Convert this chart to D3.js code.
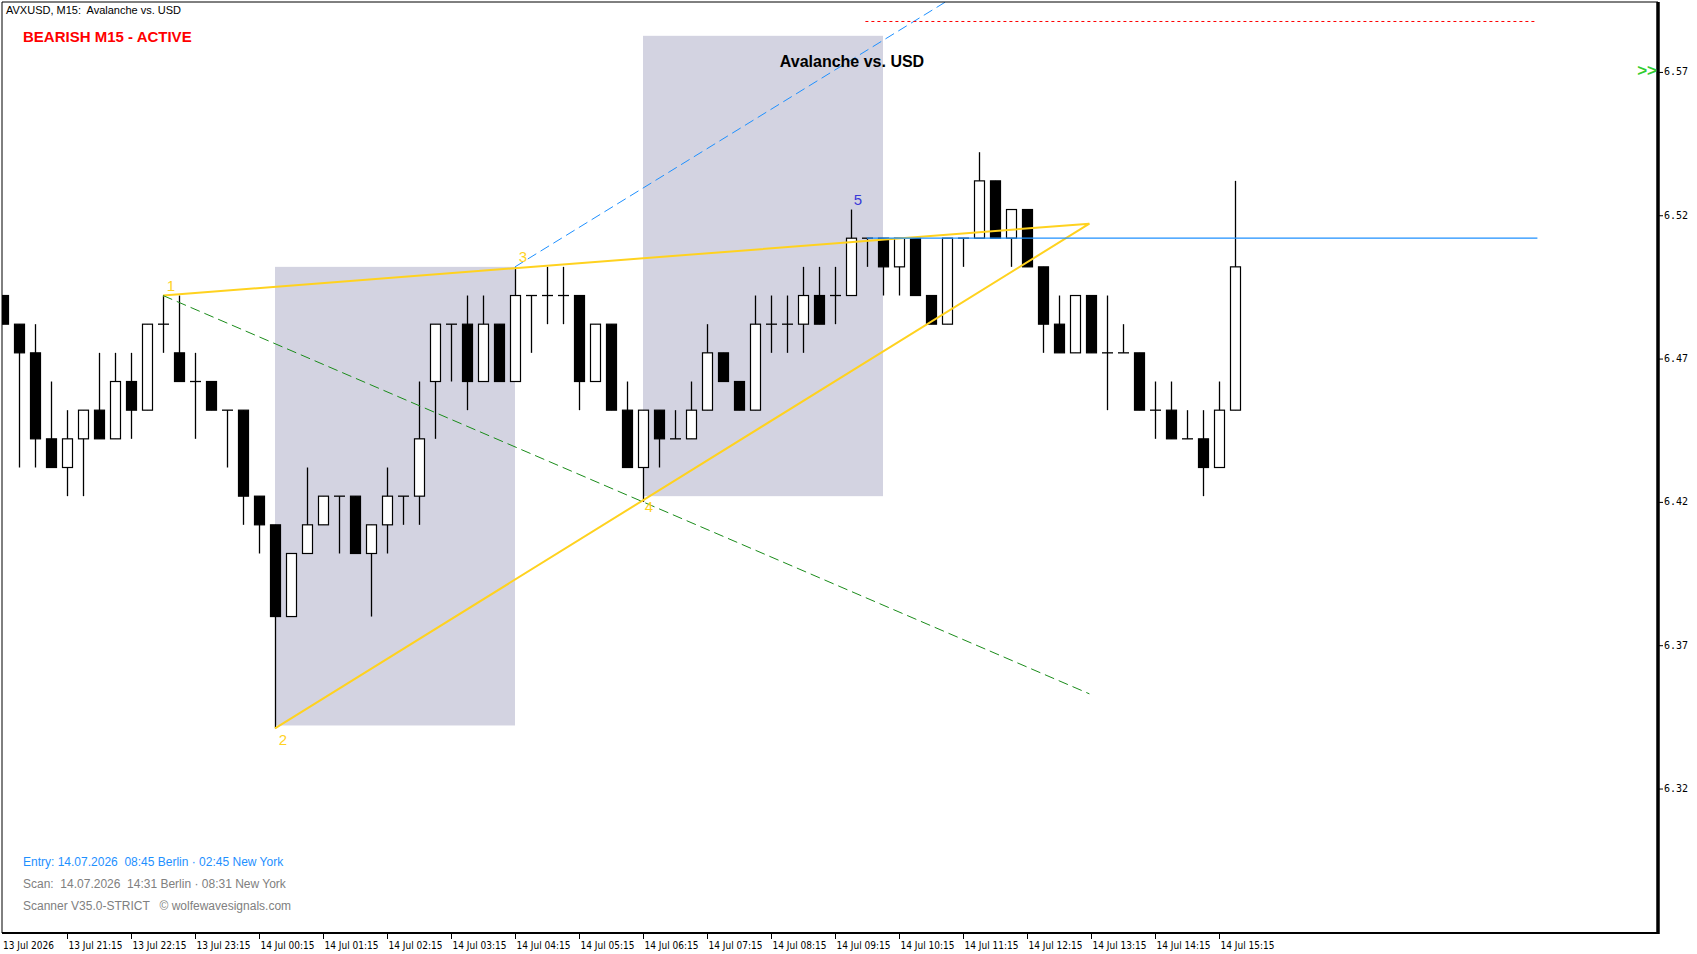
<!DOCTYPE html>
<html><head><meta charset="utf-8">
<script src="https://cdn.jsdelivr.net/npm/d3@7"></script>
<style>body{margin:0;background:#fff}svg{display:block}text{white-space:pre}</style>
</head><body>
<svg id="c" width="1697" height="954"></svg>
<script>
const opens  = [6.492,6.482,6.472,6.442,6.432,6.442,6.452,6.442,6.462,6.452,6.482,6.472,6.462,6.462,6.452,6.452,6.422,6.412,6.380,6.402,6.412,6.422,6.422,6.402,6.412,6.422,6.422,6.462,6.482,6.482,6.462,6.482,6.462,6.492,6.492,6.492,6.492,6.462,6.482,6.452,6.432,6.452,6.442,6.442,6.452,6.472,6.462,6.452,6.482,6.482,6.482,6.492,6.492,6.492,6.512,6.512,6.502,6.512,6.492,6.482,6.512,6.512,6.532,6.512,6.522,6.502,6.482,6.472,6.492,6.472,6.472,6.472,6.452,6.452,6.442,6.442,6.432,6.452];
const highs  = [6.492,6.482,6.482,6.462,6.452,6.452,6.472,6.472,6.472,6.482,6.492,6.492,6.472,6.462,6.452,6.452,6.422,6.412,6.402,6.432,6.422,6.422,6.422,6.412,6.432,6.422,6.462,6.482,6.482,6.492,6.492,6.482,6.502,6.492,6.502,6.502,6.492,6.482,6.482,6.462,6.452,6.452,6.452,6.462,6.482,6.472,6.462,6.492,6.492,6.492,6.502,6.502,6.502,6.522,6.512,6.512,6.512,6.512,6.492,6.512,6.512,6.542,6.532,6.522,6.522,6.502,6.492,6.492,6.492,6.492,6.482,6.472,6.462,6.462,6.452,6.452,6.462,6.532];
const lows   = [6.482,6.432,6.432,6.432,6.422,6.422,6.442,6.442,6.442,6.452,6.472,6.462,6.442,6.452,6.432,6.412,6.402,6.341,6.380,6.402,6.412,6.402,6.402,6.380,6.402,6.412,6.412,6.442,6.462,6.452,6.462,6.462,6.462,6.472,6.482,6.482,6.452,6.462,6.452,6.432,6.420,6.432,6.442,6.442,6.452,6.462,6.452,6.452,6.472,6.472,6.472,6.482,6.482,6.492,6.502,6.492,6.492,6.492,6.482,6.482,6.502,6.512,6.512,6.502,6.502,6.472,6.472,6.472,6.472,6.452,6.472,6.452,6.442,6.442,6.442,6.422,6.432,6.452];
const closes = [6.482,6.472,6.442,6.432,6.442,6.452,6.442,6.462,6.452,6.482,6.482,6.462,6.462,6.452,6.452,6.422,6.412,6.380,6.402,6.412,6.422,6.422,6.402,6.412,6.422,6.422,6.442,6.482,6.482,6.462,6.482,6.462,6.492,6.492,6.492,6.492,6.462,6.482,6.452,6.432,6.452,6.442,6.442,6.452,6.472,6.462,6.452,6.482,6.482,6.482,6.492,6.482,6.492,6.512,6.512,6.502,6.512,6.492,6.482,6.512,6.512,6.532,6.512,6.522,6.502,6.482,6.472,6.492,6.472,6.472,6.472,6.452,6.452,6.442,6.442,6.432,6.452,6.502];
const timeLabels = ["13 Jul 2026","13 Jul 21:15","13 Jul 22:15","13 Jul 23:15","14 Jul 00:15","14 Jul 01:15","14 Jul 02:15","14 Jul 03:15","14 Jul 04:15","14 Jul 05:15","14 Jul 06:15","14 Jul 07:15","14 Jul 08:15","14 Jul 09:15","14 Jul 10:15","14 Jul 11:15","14 Jul 12:15","14 Jul 13:15","14 Jul 14:15","14 Jul 15:15"];
const priceTicks = [6.32,6.37,6.42,6.47,6.52,6.57];
const wolfeIdx = [10,17,32,40,53];
const wolfePrice = [6.492,6.341,6.502,6.420,6.522];
const wolfeLabels = ["1","2","3","4","5"];
const apexIdx = 67.9;
const zones = [[17,32,6.342,6.502],[40,55,6.422,6.5826]];
const entryLevel = 6.512, targetLevel = 6.5876;

const svg = d3.select("#c");
const L=2, T=2, R=1658, B=933;
const x = d3.scaleLinear().domain([0,1]).range([3,19]);
const y = d3.scaleLinear().domain([6.2696,6.5944]).range([B,T]);
const n = opens.length;

svg.append("g").selectAll("rect").data(zones).join("rect")
  .attr("x",d=>x(d[0])).attr("width",d=>x(d[1])-x(d[0]))
  .attr("y",d=>y(d[3])).attr("height",d=>y(d[2])-y(d[3]))
  .attr("fill","#d3d3e1");

svg.append("clipPath").attr("id","pc").append("rect").attr("x",L).attr("y",T).attr("width",R-L).attr("height",B-T);
const g = svg.append("g").attr("clip-path","url(#pc)");

const cg = g.append("g");
d3.range(n).forEach(i=>{
  const cx = Math.round(x(i))+0.5;
  const o=opens[i], c=closes[i];
  cg.append("line").attr("x1",cx).attr("x2",cx).attr("y1",y(highs[i])).attr("y2",y(lows[i])).attr("stroke","#000").attr("stroke-width",1.3);
  if (Math.abs(o-c)<1e-9){
    cg.append("line").attr("x1",cx-5.5).attr("x2",cx+5.5).attr("y1",y(o)).attr("y2",y(o)).attr("stroke","#000").attr("stroke-width",1.3);
  } else {
    const top=y(Math.max(o,c)), bot=y(Math.min(o,c));
    cg.append("rect").attr("x",cx-5).attr("width",10).attr("y",top).attr("height",bot-top)
      .attr("fill", c>o?"#fff":"#000").attr("stroke","#000").attr("stroke-width",1.2);
  }
});

const p = i=>[wolfeIdx[i],wolfePrice[i]];
const slope=(a,b)=>(b[1]-a[1])/(b[0]-a[0]);
const at=(a,s,xi)=>[xi,a[1]+s*(xi-a[0])];
const s13=slope(p(0),p(2)), s24=slope(p(1),p(3)), s14=slope(p(0),p(3));
const apexY=(at(p(0),s13,apexIdx)[1]+at(p(1),s24,apexIdx)[1])/2;
const line=d3.line().x(d=>x(d[0])).y(d=>y(d[1]));
g.append("path").attr("d",line([p(0),[apexIdx,apexY],p(1)])).attr("fill","none").attr("stroke","#ffd21f").attr("stroke-width",2);
g.append("path").attr("d",line([p(0),at(p(0),s14,apexIdx)])).attr("fill","none").attr("stroke","#1a8c1a").attr("stroke-width",1).attr("stroke-dasharray","10,5");
g.append("path").attr("d",line([p(2),at(p(2),s24,p(2)[0]+40)])).attr("fill","none").attr("stroke","#1e90ff").attr("stroke-width",1).attr("stroke-dasharray","10,5");
g.append("path").attr("d",line([[54,entryLevel],[95.9,entryLevel]])).attr("stroke","#1e90ff").attr("stroke-width",1.3);
g.append("path").attr("d",line([[53.9,targetLevel],[95.8,targetLevel]])).attr("stroke","#ff0000").attr("stroke-width",1).attr("stroke-dasharray","3,3");

const lblOff=[[8,-5],[8,17],[8,-5],[6,10],[7,-5]];
svg.append("g").selectAll("text").data(wolfeLabels).join("text")
  .attr("x",(d,i)=>x(wolfeIdx[i])+lblOff[i][0]).attr("y",(d,i)=>y(wolfePrice[i])+lblOff[i][1])
  .attr("text-anchor","middle").attr("font-family","Liberation Sans, Arial").attr("font-size",15)
  .attr("fill",(d,i)=>i==4?"#3a3ad8":"#ffd21f").text(d=>d);

svg.append("path").attr("d",`M${L},${B}V${T}H${R}`).attr("fill","none").attr("stroke","#000").attr("stroke-width",1);
svg.append("line").attr("x1",L).attr("x2",R).attr("y1",B).attr("y2",B).attr("stroke","#000").attr("stroke-width",2);
svg.append("line").attr("x1",R).attr("x2",R).attr("y1",T).attr("y2",B+1).attr("stroke","#000").attr("stroke-width",3.5);

const ya = svg.append("g").attr("transform",`translate(${R+1},0)`).call(d3.axisRight(y).tickValues(priceTicks).tickSize(4).tickFormat(d3.format(".2f")));
ya.select(".domain").remove();
ya.selectAll("text").attr("font-family","DejaVu Sans Mono, monospace").attr("font-size",10).attr("dx",-2).attr("dy",null).attr("dominant-baseline","middle");

const tg = svg.append("g");
timeLabels.forEach((t,k)=>{
  const tx=Math.round(x(k*4))+0.5;
  if(k>0) tg.append("line").attr("x1",tx).attr("x2",tx).attr("y1",B).attr("y2",B+6).attr("stroke","#000");
  tg.append("text").attr("x",k==0?3:tx+1).attr("y",B+16).attr("font-family","DejaVu Sans Condensed, DejaVu Sans").attr("font-size",10).attr("fill","#000").text(t);
});

const ff="Liberation Sans, Arial, sans-serif";
svg.append("text").attr("x",6).attr("y",14).attr("font-family",ff).attr("font-size",11).text("AVXUSD, M15:  Avalanche vs. USD");
svg.append("text").attr("x",23).attr("y",42).attr("font-family",ff).attr("font-size",15).attr("font-weight","bold").attr("fill","#ff0000").text("BEARISH M15 - ACTIVE");
svg.append("text").attr("x",852).attr("y",67).attr("text-anchor","middle").attr("font-family",ff).attr("font-size",16).attr("font-weight","bold").attr("fill","#000").text("Avalanche vs. USD");
svg.append("text").attr("x",1657).attr("y",y(6.57)).attr("text-anchor","end").attr("dominant-baseline","middle").attr("font-family",ff).attr("font-size",17).attr("font-weight","bold").attr("fill","#32cd32").text(">>");
svg.append("text").attr("x",23).attr("y",866).attr("font-family",ff).attr("font-size",12).attr("fill","#1e90ff").text("Entry: 14.07.2026  08:45 Berlin · 02:45 New York");
svg.append("text").attr("x",23).attr("y",888).attr("font-family",ff).attr("font-size",12).attr("fill","#808080").text("Scan:  14.07.2026  14:31 Berlin · 08:31 New York");
svg.append("text").attr("x",23).attr("y",910).attr("font-family",ff).attr("font-size",12).attr("fill","#808080").text("Scanner V35.0-STRICT   © wolfewavesignals.com");
</script>
</body></html>
